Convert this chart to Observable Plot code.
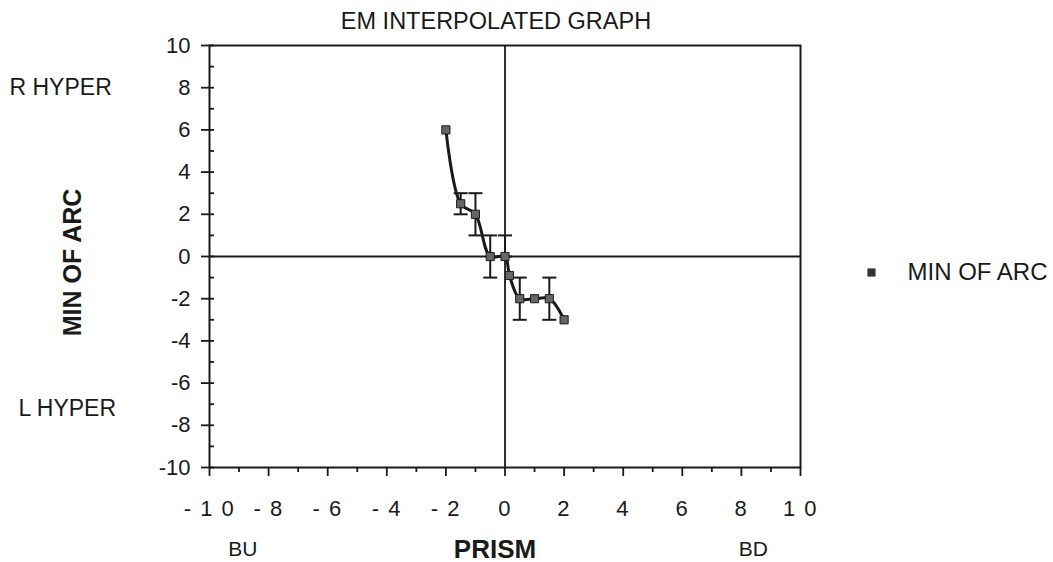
<!DOCTYPE html>
<html><head><meta charset="utf-8">
<script src="https://cdn.jsdelivr.net/npm/d3@7"></script>
<script src="https://cdn.jsdelivr.net/npm/@observablehq/plot@0.6"></script>
<style>html,body{margin:0;padding:0;background:#fff} svg{display:block}</style>
</head><body><div id="chart"></div>
<script>
// Series: prism (x) vs minutes of arc (y)
const prism  = [-2, -1.5, -1, -0.5, 0, 0.15, 0.5, 1, 1.5, 2];
const minArc = [ 6,  2.5,  2,  0,   0, -0.9, -2,  -2, -2,  -3];
// Error bars
const errPrism = [-1.5, -1, -0.5, 0, 0.5, 1.5];
const errLow   = [ 2,    1,  -1,  0, -3,  -3];
const errHigh  = [ 3,    3,   1,  1, -1,  -1];
// Ticks
const xMajor = [-10, -8, -6, -4, -2, 0, 2, 4, 6, 8, 10];
const xMinor = [-9, -7, -5, -3, -1, 1, 3, 5, 7, 9];
const yMajor = [-10, -8, -6, -4, -2, 0, 2, 4, 6, 8, 10];
const yAll   = [-10, -9, -8, -7, -6, -5, -4, -3, -2, -1, 0, 1, 2, 3, 4, 5, 6, 7, 8, 9, 10];
// Texts
const title = "EM INTERPOLATED GRAPH";
const xLabel = "PRISM";
const yLabel = "MIN OF ARC";
const legendLabel = "MIN OF ARC";
const endLabels = ["BU", "BD"];
const endLabelX = [-8.87, 8.4];
const topSide = "R HYPER", topSideY = 8;
const bottomSide = "L HYPER", bottomSideY = -7.2;

const points = prism.map((x, i) => ({x, y: minArc[i]}));
const errs = errPrism.map((x, i) => ({x, lo: errLow[i], hi: errHigh[i]}));
const cap = {draw(ctx, size) { const r = Math.sqrt(size / Math.PI); ctx.moveTo(-r, 0); ctx.lineTo(r, 0); }};
const ink = "#1a1a1a";
const spaced = d => String(d).split("").join(" ");

const chart = Plot.plot({
  width: 1053, height: 562,
  marginLeft: 209, marginRight: 253, marginTop: 45, marginBottom: 95,
  style: {fontFamily: "'Liberation Sans', Arial, sans-serif", fontSize: "22px", background: "#fff", color: ink},
  x: {domain: [-10, 10]},
  y: {domain: [-10, 10]},
  marks: [
    Plot.ruleX([0], {stroke: ink, strokeWidth: 1.8}),
    Plot.ruleY([0], {stroke: ink, strokeWidth: 1.8}),
    Plot.frame({stroke: ink, strokeWidth: 2}),
    Plot.axisX({ticks: xMajor, tickSize: 9, tickPadding: 24, tickFormat: spaced, strokeWidth: 1.8, label: null, fontSize: 22}),
    Plot.axisX({ticks: xMinor, tickSize: 5, tickFormat: () => "", strokeWidth: 1.8, label: null}),
    Plot.axisY({ticks: yMajor, tickSize: 8, tickPadding: 11, tickFormat: d => String(d), strokeWidth: 1.8, label: null, fontSize: 22}),
    Plot.axisY({ticks: yAll, tickSize: 5, dx: 5, tickFormat: () => "", strokeWidth: 1.8, label: null}),
    // error bars
    Plot.ruleX(errs, {x: "x", y1: "lo", y2: "hi", stroke: ink, strokeWidth: 2}),
    Plot.dot(errs, {x: "x", y: "lo", symbol: cap, r: 7, stroke: ink, strokeWidth: 2}),
    Plot.dot(errs, {x: "x", y: "hi", symbol: cap, r: 7, stroke: ink, strokeWidth: 2}),
    // series
    Plot.line(points, {x: "x", y: "y", curve: "catmull-rom", stroke: ink, strokeWidth: 3}),
    Plot.dot(points, {x: "x", y: "y", symbol: "square", r: 4.6, fill: "#666", stroke: ink, strokeWidth: 1}),
    // texts
    Plot.text([title], {frameAnchor: "top", dx: -9, dy: -33, fontSize: 23.5}),
    Plot.text([yLabel], {frameAnchor: "left", dx: -137, dy: 6, rotate: -90, textAnchor: "middle", fontWeight: "bold", fontSize: 25}),
    Plot.text([xLabel], {frameAnchor: "bottom", dx: -10, dy: 90, fontWeight: "bold", fontSize: 26}),
    Plot.text(endLabels, {x: endLabelX, frameAnchor: "bottom", dy: 88, fontSize: 21}),
    Plot.text([topSide], {y: [topSideY], frameAnchor: "left", dx: -200, textAnchor: "start", fontSize: 23}),
    Plot.text([bottomSide], {y: [bottomSideY], frameAnchor: "left", dx: -191, textAnchor: "start", fontSize: 23}),
    // legend
    Plot.dot([legendLabel], {frameAnchor: "right", dx: 71, dy: 16, symbol: "square", r: 4.6, fill: "#333"}),
    Plot.text([legendLabel], {frameAnchor: "right", dx: 107, dy: 16, textAnchor: "start", fontSize: 24})
  ]
});
d3.select(chart).selectAll("g[aria-label='x-axis tick label'] text").style("letter-spacing", "1.5px");
document.getElementById("chart").appendChild(chart);
</script>
</body></html>
